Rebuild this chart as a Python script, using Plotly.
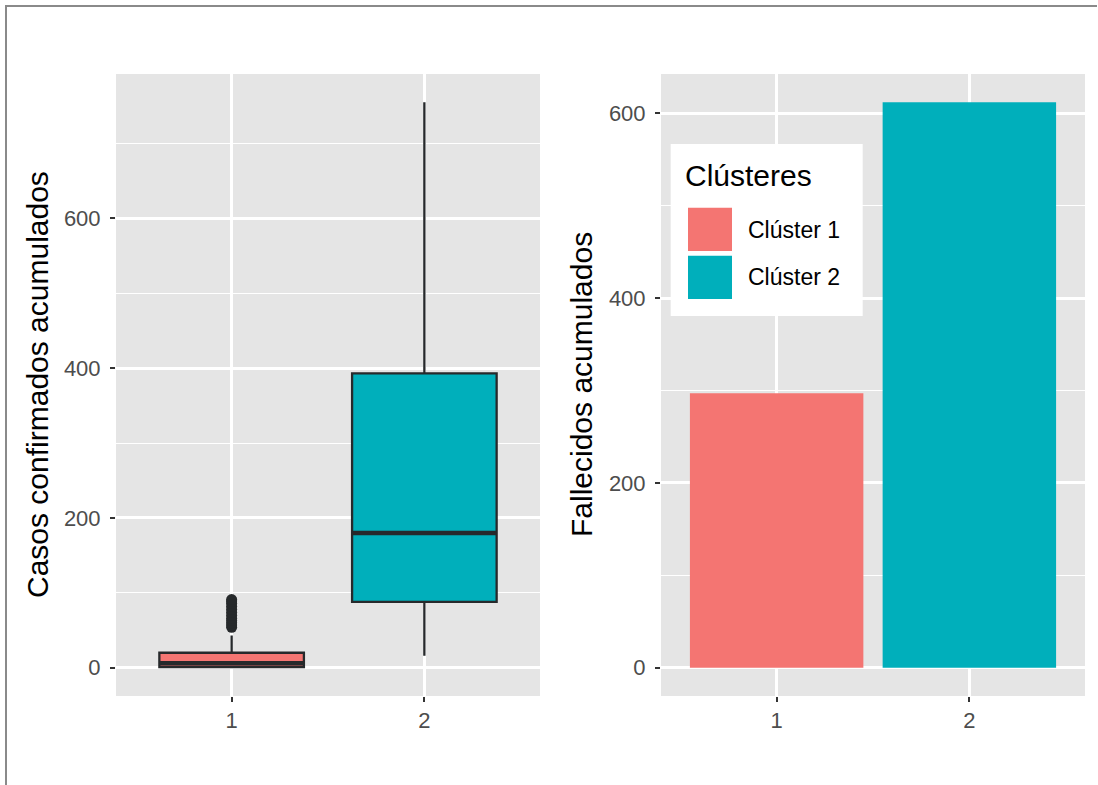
import plotly.graph_objects as go

W, H = 1098, 785
OFF = 0  # page body margin removed via post_script

# ---------------- data ----------------
clusters = [1, 2]
cluster_names = ["Clúster 1", "Clúster 2"]
colors = ["#F47572", "#00AFBB"]

# boxplot stats: casos confirmados acumulados
box_q1 = [1, 88]
box_median = [6, 180]
box_q3 = [20, 393]
box_lower = [0, 16]
box_upper = [43, 755]
outliers_c1 = [54, 57, 60, 63, 66, 70, 74, 78, 82, 86, 89, 91]

# bars: fallecidos acumulados
deaths = [297, 612]

y_ticks_left = [0, 200, 400, 600]
y_ticks_right = [0, 200, 400, 600]

# ---------------- helpers ----------------
def px(x):
    return (x - OFF) / W

def py(y):
    return 1 - (y - OFF) / H

dark = "#26292B"
fig = go.Figure()

box_w = 0.75
for i, c in enumerate(clusters):
    fig.add_trace(go.Box(
        x=[c], q1=[box_q1[i]], median=[box_median[i]], q3=[box_q3[i]],
        lowerfence=[box_lower[i]], upperfence=[box_upper[i]],
        width=box_w, whiskerwidth=0, boxpoints=False,
        fillcolor=colors[i], line=dict(color=dark, width=2.3),
        xaxis="x", yaxis="y", showlegend=False, hoverinfo="skip",
    ))
    fig.add_trace(go.Scatter(
        x=[c - box_w / 2, c + box_w / 2], y=[box_median[i], box_median[i]],
        mode="lines", line=dict(color=dark, width=4.5),
        xaxis="x", yaxis="y", showlegend=False, hoverinfo="skip",
    ))

fig.add_trace(go.Scatter(
    x=[clusters[0]] * len(outliers_c1), y=outliers_c1, mode="markers",
    marker=dict(color=dark, size=11),
    xaxis="x", yaxis="y", showlegend=False, hoverinfo="skip",
))

fig.add_trace(go.Bar(
    x=clusters, y=deaths, width=0.9, marker=dict(color=colors, line=dict(width=0)),
    xaxis="x2", yaxis="y2", showlegend=False, hoverinfo="skip",
))

lo = min(box_lower)
hi = max(max(box_upper), max(outliers_c1))
span = hi - lo
left_range = [lo - 0.05 * span, hi + 0.05 * span]
right_range = [-0.05 * max(deaths), 1.05 * max(deaths)]

panel_bg = "#E5E5E5"
FONT = "Liberation Sans, Arial, sans-serif"
tickfont = dict(family=FONT, size=22, color="#4D4D4D")

common_x = dict(
    range=[0.4, 2.6], tickvals=clusters, ticktext=[str(c) for c in clusters],
    showgrid=True, gridcolor="white", gridwidth=2.5, zeroline=False,
    ticks="outside", ticklen=5, tickwidth=2, tickcolor="#333333",
    tickfont=tickfont, showline=False, fixedrange=True,
)
common_y = dict(
    showgrid=True, gridcolor="white", gridwidth=2.5, zeroline=False,
    ticks="outside", ticklen=5, tickwidth=2, tickcolor="#333333",
    tickfont=tickfont, showline=False, fixedrange=True, ticklabelstandoff=5,
    minor=dict(showgrid=True, gridcolor="white", gridwidth=1.2, dtick=100, ticks=""),
)

ydom = [py(696), py(74)]
fig.update_layout(
    width=W, height=H,
    margin=dict(l=0, r=0, t=0, b=0, autoexpand=False),
    paper_bgcolor="white", plot_bgcolor=panel_bg,
    xaxis=dict(domain=[px(116), px(540)], anchor="y", **common_x),
    yaxis=dict(domain=ydom, anchor="x", range=left_range, tickvals=y_ticks_left, **common_y),
    xaxis2=dict(domain=[px(661), px(1085)], anchor="y2", **common_x),
    yaxis2=dict(domain=ydom, anchor="x2", range=right_range, tickvals=y_ticks_right, **common_y),
    font=dict(family=FONT, color="black"),
)

shapes = [
    # outer frame (top and left edge)
    dict(type="line", xref="paper", yref="paper", x0=px(5), x1=px(1097), y0=py(6), y1=py(6),
         line=dict(color="#8A8A8A", width=2)),
    dict(type="line", xref="paper", yref="paper", x0=px(6), x1=px(6), y0=py(5), y1=py(785),
         line=dict(color="#8A8A8A", width=2)),
    # legend box
    dict(type="rect", xref="paper", yref="paper", x0=px(670.7), x1=px(862.7), y0=py(316), y1=py(144),
         fillcolor="white", line=dict(width=0), layer="above"),
    dict(type="rect", xref="paper", yref="paper", x0=px(688), x1=px(732), y0=py(251), y1=py(207.7),
         fillcolor=colors[0], line=dict(width=0), layer="above"),
    dict(type="rect", xref="paper", yref="paper", x0=px(688), x1=px(732), y0=py(299), y1=py(255.7),
         fillcolor=colors[1], line=dict(width=0), layer="above"),
]

annotations = [
    dict(text="Casos confirmados acumulados", x=px(37), y=py(385), xref="paper", yref="paper",
         textangle=-90, showarrow=False, font=dict(size=30, color="black"),
         xanchor="center", yanchor="middle"),
    dict(text="Fallecidos acumulados", x=px(581), y=py(385), xref="paper", yref="paper",
         textangle=-90, showarrow=False, font=dict(size=30, color="black"),
         xanchor="center", yanchor="middle"),
    dict(text="Clústeres", x=px(683), y=py(176), xref="paper", yref="paper",
         showarrow=False, font=dict(size=30, color="black"), xanchor="left", yanchor="middle"),
    dict(text=cluster_names[0], x=px(746), y=py(230), xref="paper", yref="paper",
         showarrow=False, font=dict(size=23, color="black"), xanchor="left", yanchor="middle"),
    dict(text=cluster_names[1], x=px(746), y=py(277), xref="paper", yref="paper",
         showarrow=False, font=dict(size=23, color="black"), xanchor="left", yanchor="middle"),
]

fig.update_layout(shapes=shapes, annotations=annotations)
fig.write_html(
    "out.html",
    config={"displayModeBar": False},
    post_script="document.body.style.margin='0px';document.body.style.overflow='hidden';",
)
